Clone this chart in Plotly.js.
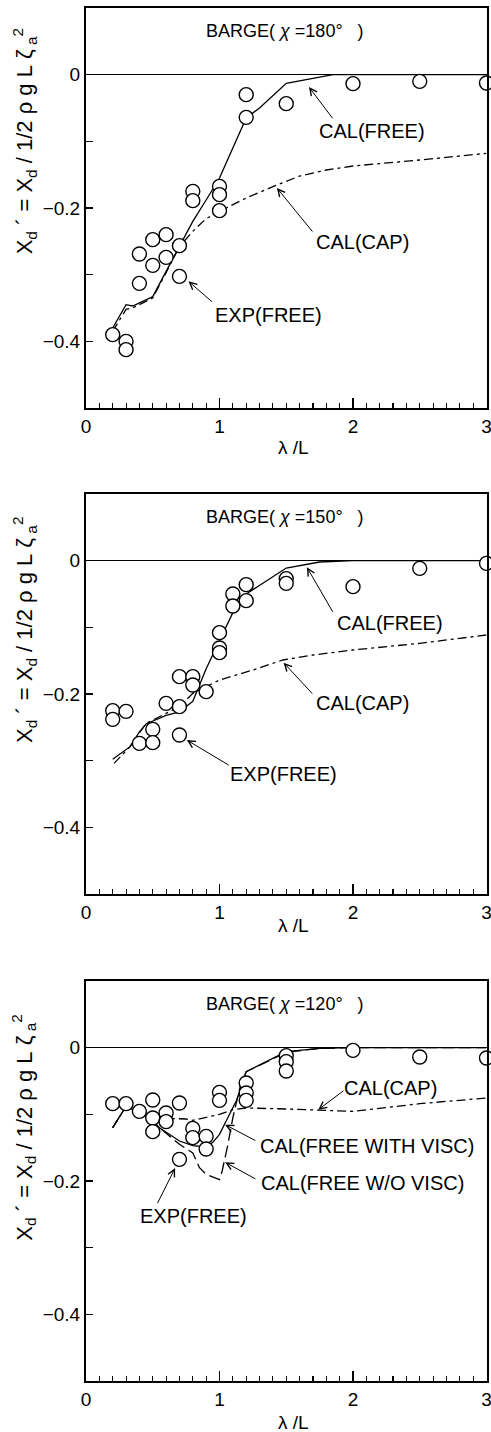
<!DOCTYPE html>
<html>
<head>
<meta charset="utf-8">
<script src="https://cdn.plot.ly/plotly-3.0.1.min.js"></script>
<style>
  html, body { margin: 0; padding: 0; background: #fff; }
  #chart { width: 491px; height: 1432px; }
</style>
</head>
<body>
<div id="chart"></div>
<script>
// Wave drift force coefficient of a barge vs. wave length ratio λ/L,
// for three heading angles χ.

// Heading angles (degrees), one panel each
const headings = ['180', '150', '120'];

// ---- χ = 180° ----
const exp180X = [0.2, 0.3, 0.3, 0.4, 0.4, 0.5, 0.5, 0.6, 0.6, 0.7, 0.7, 0.8, 0.8, 1.0, 1.0, 1.0, 1.2, 1.2, 1.5, 2.0, 2.5, 3.0];
const exp180Y = [-0.39, -0.40, -0.4125, -0.269, -0.313, -0.2475, -0.286, -0.24, -0.274, -0.2565, -0.3025, -0.175, -0.189, -0.1675, -0.18, -0.204, -0.03, -0.064, -0.0435, -0.0135, -0.01, -0.0125];
const calFree180X = [0.2, 0.3, 0.35, 0.5, 0.6, 0.7, 0.8, 0.9, 1.0, 1.2, 1.3, 1.5, 1.7, 1.85, 2.0, 2.5, 3.0];
const calFree180Y = [-0.38, -0.345, -0.347, -0.333, -0.295, -0.258, -0.22, -0.188, -0.155, -0.065, -0.05, -0.013, -0.005, 0, 0, 0, 0];
const calCap180X = [0.2, 0.3, 0.35, 0.5, 0.6, 0.7, 0.8, 0.9, 1.0, 1.2, 1.4, 1.6, 1.8, 2.0, 2.5, 3.0];
const calCap180Y = [-0.385, -0.352, -0.35, -0.335, -0.297, -0.258, -0.235, -0.216, -0.205, -0.185, -0.168, -0.152, -0.143, -0.137, -0.128, -0.118];

// ---- χ = 150° ----
const exp150X = [0.2, 0.2, 0.3, 0.4, 0.5, 0.5, 0.6, 0.7, 0.7, 0.7, 0.8, 0.8, 0.9, 1.0, 1.0, 1.0, 1.1, 1.1, 1.2, 1.2, 1.5, 1.5, 2.0, 2.5, 3.0];
const exp150Y = [-0.225, -0.238, -0.226, -0.274, -0.253, -0.273, -0.214, -0.174, -0.219, -0.2615, -0.174, -0.1865, -0.1965, -0.108, -0.131, -0.138, -0.05, -0.068, -0.036, -0.06, -0.027, -0.034, -0.039, -0.0115, -0.004];
const calFree150X = [0.2, 0.33, 0.4, 0.45, 0.6, 0.7, 0.8, 0.855, 0.9, 1.0, 1.1, 1.2, 1.5, 1.75, 2.0, 2.5, 3.0];
const calFree150Y = [-0.298, -0.279, -0.257, -0.245, -0.232, -0.227, -0.211, -0.184, -0.162, -0.12, -0.078, -0.05, -0.011, -0.002, 0, 0, 0];
const calCap150X = [0.21, 0.33, 0.45, 0.6, 0.7, 0.8, 0.9, 1.0, 1.25, 1.475, 1.7, 2.0, 2.5, 3.0];
const calCap150Y = [-0.304, -0.279, -0.244, -0.229, -0.219, -0.199, -0.189, -0.179, -0.164, -0.149, -0.1415, -0.134, -0.124, -0.1115];

// ---- χ = 120° ----
const exp120X = [0.2, 0.3, 0.4, 0.5, 0.5, 0.5, 0.6, 0.6, 0.7, 0.7, 0.8, 0.8, 0.9, 0.9, 1.0, 1.0, 1.2, 1.2, 1.2, 1.5, 1.5, 1.5, 2.0, 2.5, 3.0];
const exp120Y = [-0.084, -0.084, -0.0955, -0.0785, -0.1055, -0.126, -0.098, -0.111, -0.083, -0.1675, -0.121, -0.135, -0.133, -0.152, -0.067, -0.079, -0.053, -0.068, -0.079, -0.012, -0.021, -0.035, -0.004, -0.014, -0.0155];
const calVisc120X = [0.2, 0.3, 0.4, 0.5, 0.55, 0.7, 0.8, 0.9, 0.95, 1.0, 1.05, 1.13, 1.2, 1.5, 1.75, 2.0, 2.5, 3.0];
const calVisc120Y = [-0.12, -0.088, -0.098, -0.11, -0.12, -0.14, -0.147, -0.149, -0.142, -0.13, -0.11, -0.078, -0.036, -0.006, -0.001, 0, 0, 0];
const calNoVisc120X = [0.2, 0.3, 0.4, 0.5, 0.55, 0.7, 0.8, 0.85, 0.9, 1.0, 1.02, 1.06, 1.1, 1.155, 1.2, 1.5, 1.75, 2.0, 2.5, 3.0];
const calNoVisc120Y = [-0.12, -0.088, -0.098, -0.11, -0.12, -0.145, -0.158, -0.18, -0.19, -0.198, -0.185, -0.148, -0.105, -0.058, -0.036, -0.007, -0.001, 0, 0, 0];
const calCap120X = [0.2, 0.3, 0.4, 0.5, 0.6, 0.75, 0.8, 0.9, 1.0, 1.1, 1.2, 1.5, 1.78, 2.0, 2.5, 3.0];
const calCap120Y = [-0.12, -0.088, -0.097, -0.103, -0.106, -0.107, -0.109, -0.105, -0.1, -0.093, -0.0905, -0.092, -0.094, -0.0955, -0.084, -0.0755];

// Axis ticks
const xMajorTicks = [0, 1, 2, 3];
const yTickVals = [0, -0.2, -0.4];
const yTickText = ['0', '\u22120.2', '\u22120.4'];
const yMinorTicks = [-0.1, -0.3];

const FONT = 'Liberation Sans, Arial, Helvetica, sans-serif';
const INK = '#000';
const NB = '\u00a0';

// Plot areas in pixels of the 491 x 1432 page
const W = 491, H = 1432;
const xDom = [86 / W, 486.5 / W];
const panels = [
  { top: 8,     bottom: 408 },
  { top: 494,   bottom: 894 },
  { top: 981,   bottom: 1381 }
];
const yDom = panels.map(p => [1 - p.bottom / H, 1 - p.top / H]);

function circles(xa, ya, xs, ys) {
  return {
    type: 'scatter', mode: 'markers', x: xs, y: ys, xaxis: xa, yaxis: ya,
    cliponaxis: false, showlegend: false, hoverinfo: 'skip',
    marker: { symbol: 'circle', size: 14, color: '#fff', line: { color: INK, width: 1.4 } }
  };
}
function curve(xa, ya, xs, ys, dash, width) {
  return {
    type: 'scatter', mode: 'lines', x: xs, y: ys, xaxis: xa, yaxis: ya,
    showlegend: false, hoverinfo: 'skip',
    line: { color: INK, width: width || 1.3, dash: dash || 'solid' }
  };
}

const DASHDOT = '9px,4px,3px,4px';
const LONGDASH = '12px,5px';

const traces = [
  curve('x', 'y', calCap180X, calCap180Y, DASHDOT),
  curve('x', 'y', calFree180X, calFree180Y, 'solid'),
  circles('x', 'y', exp180X, exp180Y),

  curve('x2', 'y2', calCap150X, calCap150Y, DASHDOT),
  curve('x2', 'y2', calFree150X, calFree150Y, 'solid'),
  circles('x2', 'y2', exp150X, exp150Y),

  curve('x3', 'y3', calCap120X, calCap120Y, DASHDOT),
  curve('x3', 'y3', calNoVisc120X, calNoVisc120Y, LONGDASH),
  curve('x3', 'y3', calVisc120X, calVisc120Y, 'solid'),
  circles('x3', 'y3', exp120X, exp120Y)
];

function xAxis(anchor) {
  return {
    domain: xDom, anchor: anchor, range: [0, 3], autorange: false, fixedrange: true,
    showgrid: false, zeroline: false,
    showline: true, linecolor: INK, linewidth: 2, mirror: true,
    tickmode: 'array', tickvals: xMajorTicks, ticktext: xMajorTicks.map(String),
    ticks: 'inside', ticklen: 10, tickwidth: 1.3, tickcolor: INK,
    ticklabeloverflow: 'allow',
    minor: { dtick: 0.1, tick0: 0, ticks: 'inside', ticklen: 5, tickwidth: 1.1, tickcolor: INK, showgrid: false },
    tickfont: { family: FONT, size: 19, color: INK }
  };
}
function yAxis(anchor, dom) {
  return {
    domain: dom, anchor: anchor, range: [-0.5, 0.1], autorange: false, fixedrange: true,
    showgrid: false,
    zeroline: true, zerolinecolor: INK, zerolinewidth: 1.2,
    showline: true, linecolor: INK, linewidth: 2, mirror: true,
    tickmode: 'array', tickvals: yTickVals, ticktext: yTickText,
    ticks: 'inside', ticklen: 7, tickwidth: 1.2, tickcolor: INK,
    minor: { tickmode: 'array', tickvals: yMinorTicks, ticks: 'inside', ticklen: 7, tickwidth: 1.2, tickcolor: INK, showgrid: false },
    tickfont: { family: FONT, size: 19, color: INK }
  };
}

function label(xa, ya, x, y, text, size) {
  return {
    xref: xa, yref: ya, x: x, y: y, text: text, showarrow: false,
    xanchor: 'center', yanchor: 'middle',
    font: { family: FONT, size: size || 20, color: INK }
  };
}
function arrow(xa, ya, tipX, tipY, tailX, tailY) {
  return {
    xref: xa, yref: ya, x: tipX, y: tipY,
    axref: xa, ayref: ya, ax: tailX, ay: tailY,
    text: '', showarrow: true,
    arrowhead: 5, arrowsize: 1.4, arrowwidth: 1, arrowcolor: INK, standoff: 0
  };
}

const yTitle = 'X<sub>d</sub>' + NB + '´' + NB + '=' + NB + 'X<sub>d</sub>' + NB + '/' + NB +
  '1/2' + NB + 'ρ' + NB + 'g' + NB + 'L' + NB + 'ζ<sub>' + NB + 'a</sub><sup>2</sup>';
const xTitle = 'λ' + NB + '/L';
function heading(h) { return 'BARGE(' + NB + '<i>χ</i>' + NB + '=' + h + '°' + NB + NB + NB + ')'; }

const axisPairs = [['x', 'y'], ['x2', 'y2'], ['x3', 'y3']];
const xTitleY = [1 - 447 / H, 1 - 925 / H, 1 - 1422 / H];
const yTitleY = [-0.1, -0.104, -0.12];

const annotations = [];
axisPairs.forEach(([xa, ya], i) => {
  annotations.push(label(xa, ya, 1.49, 0.065, heading(headings[i]), 18));
  annotations.push({
    xref: 'paper', yref: ya, x: 24 / W, y: yTitleY[i], text: yTitle, textangle: -90,
    showarrow: false, xanchor: 'center', yanchor: 'middle',
    font: { family: FONT, size: 22, color: INK }
  });
  annotations.push({
    xref: 'paper', yref: 'paper', x: 293 / W, y: xTitleY[i], text: xTitle,
    showarrow: false, xanchor: 'center', yanchor: 'middle',
    font: { family: FONT, size: 19, color: INK }
  });
});

// χ = 180°
annotations.push(label('x', 'y', 2.14, -0.085, 'CAL(FREE)'));
annotations.push(arrow('x', 'y', 1.67, -0.0185, 1.855, -0.0675));
annotations.push(label('x', 'y', 2.07, -0.2515, 'CAL(CAP)'));
annotations.push(arrow('x', 'y', 1.43, -0.17, 1.705, -0.2375));
annotations.push(label('x', 'y', 1.37, -0.36, 'EXP(FREE)'));
annotations.push(arrow('x', 'y', 0.7675, -0.31, 0.955, -0.3425));

// χ = 150°
annotations.push(label('x2', 'y2', 2.28, -0.093, 'CAL(FREE)'));
annotations.push(arrow('x2', 'y2', 1.655, -0.01, 1.855, -0.079));
annotations.push(label('x2', 'y2', 2.07, -0.213, 'CAL(CAP)'));
annotations.push(arrow('x2', 'y2', 1.48, -0.153, 1.705, -0.2015));
annotations.push(label('x2', 'y2', 1.48, -0.32, 'EXP(FREE)'));
annotations.push(arrow('x2', 'y2', 0.755, -0.269, 1.08, -0.308));

// χ = 120°
annotations.push(label('x3', 'y3', 2.28, -0.0605, 'CAL(CAP)'));
annotations.push(arrow('x3', 'y3', 1.74, -0.093, 1.94, -0.063));
annotations.push(label('x3', 'y3', 2.105, -0.148, 'CAL(FREE WITH VISC)'));
annotations.push(arrow('x3', 'y3', 1.0425, -0.1155, 1.28, -0.1405));
annotations.push(label('x3', 'y3', 2.07, -0.203, 'CAL(FREE W/O VISC)'));
annotations.push(arrow('x3', 'y3', 1.0425, -0.172, 1.28, -0.198));
annotations.push(label('x3', 'y3', 0.805, -0.253, 'EXP(FREE)'));
annotations.push(arrow('x3', 'y3', 0.6675, -0.1805, 0.53, -0.2355));

const layout = {
  width: W, height: H,
  margin: { l: 0, r: 0, t: 0, b: 0, pad: 0 },
  paper_bgcolor: '#fff', plot_bgcolor: '#fff',
  font: { family: FONT, color: INK },
  showlegend: false,
  xaxis: xAxis('y'), yaxis: yAxis('x', yDom[0]),
  xaxis2: xAxis('y2'), yaxis2: yAxis('x2', yDom[1]),
  xaxis3: xAxis('y3'), yaxis3: yAxis('x3', yDom[2]),
  annotations: annotations
};

Plotly.newPlot('chart', traces, layout, { staticPlot: true, displayModeBar: false });
</script>
</body>
</html>
